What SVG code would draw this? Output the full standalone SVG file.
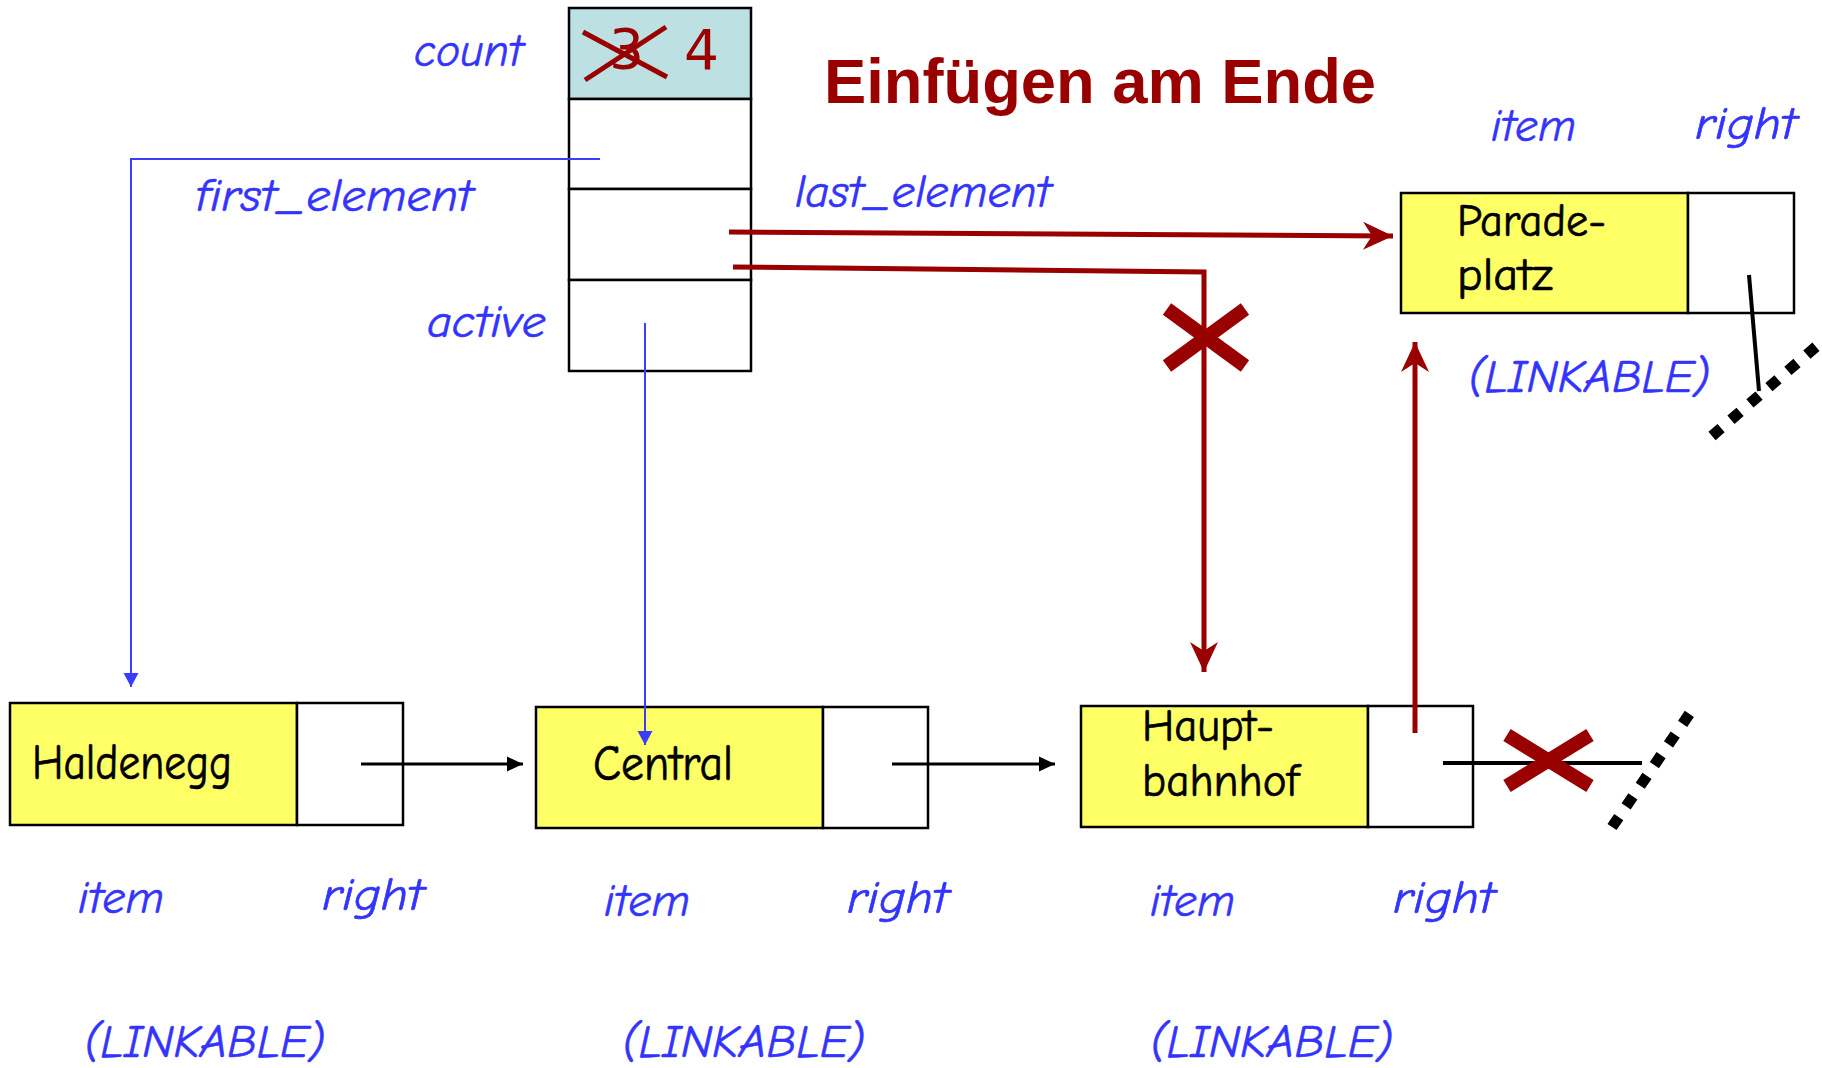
<svg xmlns="http://www.w3.org/2000/svg" width="1822" height="1068" viewBox="0 0 1822 1068">
<style>
.lbl{font-family:"Comic Sans MS","Comic Neue","DejaVu Sans",sans-serif;font-style:italic;font-size:46px;fill:#3333ff;stroke:#3333ff;stroke-width:0.6}
.nm{font-family:"Comic Sans MS","Comic Neue","DejaVu Sans",sans-serif;font-size:50px;fill:#000;stroke:#000;stroke-width:0.7}
.nm2{font-family:"Comic Sans MS","Comic Neue","DejaVu Sans",sans-serif;font-size:46px;fill:#000;stroke:#000;stroke-width:0.7}
.cell{stroke:#000;stroke-width:2.5}
.yel{fill:#ffff66}
.wht{fill:#fff}
.red{stroke:#990000;fill:none;stroke-width:5}
.blue{stroke:#3c3cff;fill:none;stroke-width:2}
.blk{stroke:#000;fill:none;stroke-width:3}
.xmark{stroke:#990000;stroke-width:14;fill:none}
.dots{stroke:#000;stroke-width:11;stroke-dasharray:12 13;fill:none}
</style>
<defs>
<marker id="ar" markerUnits="userSpaceOnUse" viewBox="-31 -15 32 30" markerWidth="32" markerHeight="30" refX="0" refY="0" orient="auto"><path d="M0,0 L-30,-14 L-21,0 L-30,14 Z" fill="#990000"/></marker>
<marker id="ab" markerUnits="userSpaceOnUse" viewBox="-15 -8 16 16" markerWidth="16" markerHeight="16" refX="0" refY="0" orient="auto"><path d="M0,0 L-14,-7.5 L-14,7.5 Z" fill="#3c3cff"/></marker>
<marker id="ak" markerUnits="userSpaceOnUse" viewBox="-17 -8 18 16" markerWidth="18" markerHeight="16" refX="0" refY="0" orient="auto"><path d="M0,0 L-16,-7.5 L-16,7.5 Z" fill="#000"/></marker>
</defs>
<rect width="1822" height="1068" fill="#fff"/>

<text x="824" y="103" font-family="'Liberation Sans',Arial,sans-serif" font-weight="bold" font-size="63" fill="#990000" textLength="552" lengthAdjust="spacingAndGlyphs">Einfügen am Ende</text>

<g id="list">
<rect class="cell" x="569" y="8" width="182" height="91" fill="#bde0e3"/>
<rect class="cell wht" x="569" y="99" width="182" height="90"/>
<rect class="cell wht" x="569" y="189" width="182" height="91"/>
<rect class="cell wht" x="569" y="280" width="182" height="91"/>
<text x="609" y="68" font-family="'DejaVu Sans',sans-serif" font-size="55" fill="#990000">3</text>
<line x1="583" y1="32" x2="667" y2="77" stroke="#990000" stroke-width="5"/>
<line x1="585" y1="80" x2="666" y2="27" stroke="#990000" stroke-width="5"/>
<text x="684" y="69" font-family="'DejaVu Sans',sans-serif" font-size="55" fill="#990000">4</text>
<text class="lbl" x="414" y="66" textLength="109" lengthAdjust="spacingAndGlyphs">count</text>
<text class="lbl" x="196" y="211" textLength="277" lengthAdjust="spacingAndGlyphs">first_element</text>
<text class="lbl" x="795" y="207" textLength="256" lengthAdjust="spacingAndGlyphs">last_element</text>
<text class="lbl" x="427" y="337" textLength="119" lengthAdjust="spacingAndGlyphs">active</text>
</g>

<g id="haldenegg">
<rect class="cell yel" x="10" y="703" width="287" height="122"/>
<rect class="cell wht" x="297" y="703" width="106" height="122"/>
<text class="nm" x="32" y="779" textLength="200" lengthAdjust="spacingAndGlyphs">Haldenegg</text>
<text class="lbl" x="78" y="913" textLength="86" lengthAdjust="spacingAndGlyphs">item</text>
<text class="lbl" x="322" y="910" textLength="102" lengthAdjust="spacingAndGlyphs">right</text>
<text class="lbl" x="84" y="1057" textLength="241" lengthAdjust="spacingAndGlyphs">(LINKABLE)</text>
</g>

<g id="central">
<rect class="cell yel" x="536" y="707" width="287" height="121"/>
<rect class="cell wht" x="823" y="707" width="105" height="121"/>
<text class="nm" x="593" y="780" textLength="140" lengthAdjust="spacingAndGlyphs">Central</text>
<text class="lbl" x="604" y="916" textLength="86" lengthAdjust="spacingAndGlyphs">item</text>
<text class="lbl" x="847" y="913" textLength="102" lengthAdjust="spacingAndGlyphs">right</text>
<text class="lbl" x="622" y="1057" textLength="243" lengthAdjust="spacingAndGlyphs">(LINKABLE)</text>
</g>

<g id="hauptbahnhof">
<rect class="cell yel" x="1081" y="706" width="287" height="121"/>
<rect class="cell wht" x="1368" y="706" width="105" height="121"/>
<text class="nm2" x="1142" y="741" textLength="132" lengthAdjust="spacingAndGlyphs">Haupt-</text>
<text class="nm2" x="1142" y="796" textLength="157" lengthAdjust="spacingAndGlyphs">bahnhof</text>
<text class="lbl" x="1150" y="916" textLength="85" lengthAdjust="spacingAndGlyphs">item</text>
<text class="lbl" x="1393" y="913" textLength="102" lengthAdjust="spacingAndGlyphs">right</text>
<text class="lbl" x="1150" y="1057" textLength="243" lengthAdjust="spacingAndGlyphs">(LINKABLE)</text>
</g>

<g id="paradeplatz">
<rect class="cell yel" x="1401" y="193" width="287" height="120"/>
<rect class="cell wht" x="1688" y="193" width="106" height="120"/>
<text class="nm2" x="1457" y="236" textLength="149" lengthAdjust="spacingAndGlyphs">Parade-</text>
<text class="nm2" x="1457" y="290" textLength="96" lengthAdjust="spacingAndGlyphs">platz</text>
<text class="lbl" x="1491" y="141" textLength="85" lengthAdjust="spacingAndGlyphs">item</text>
<text class="lbl" x="1695" y="139" textLength="102" lengthAdjust="spacingAndGlyphs">right</text>
<text class="lbl" x="1468" y="392" textLength="242" lengthAdjust="spacingAndGlyphs">(LINKABLE)</text>
</g>

<g id="connectors">
<polyline class="blue" points="600,159 131,159 131,687" marker-end="url(#ab)"/>
<line class="blue" x1="645" y1="323" x2="645" y2="745" marker-end="url(#ab)"/>
<line class="red" x1="729" y1="232" x2="1393" y2="236" marker-end="url(#ar)"/>
<polyline class="red" points="733,267 1204,272 1204,672" marker-end="url(#ar)"/>
<line class="red" x1="1415" y1="733" x2="1415" y2="342" marker-end="url(#ar)"/>
<line class="blk" x1="361" y1="764" x2="523" y2="764" marker-end="url(#ak)"/>
<line class="blk" x1="892" y1="764" x2="1055" y2="764" marker-end="url(#ak)"/>
<line x1="1443" y1="763" x2="1642" y2="763" stroke="#000" stroke-width="4"/>
<line x1="1749" y1="275" x2="1759" y2="391" stroke="#000" stroke-width="4"/>
<line class="dots" x1="1712" y1="436" x2="1818" y2="345"/>
<line class="dots" x1="1612" y1="827" x2="1690" y2="713"/>
<line class="xmark" x1="1167" y1="309" x2="1245" y2="366"/>
<line class="xmark" x1="1245" y1="309" x2="1167" y2="366"/>
<line class="xmark" x1="1507" y1="735" x2="1590" y2="786"/>
<line class="xmark" x1="1507" y1="786" x2="1590" y2="735"/>
</g>
</svg>
